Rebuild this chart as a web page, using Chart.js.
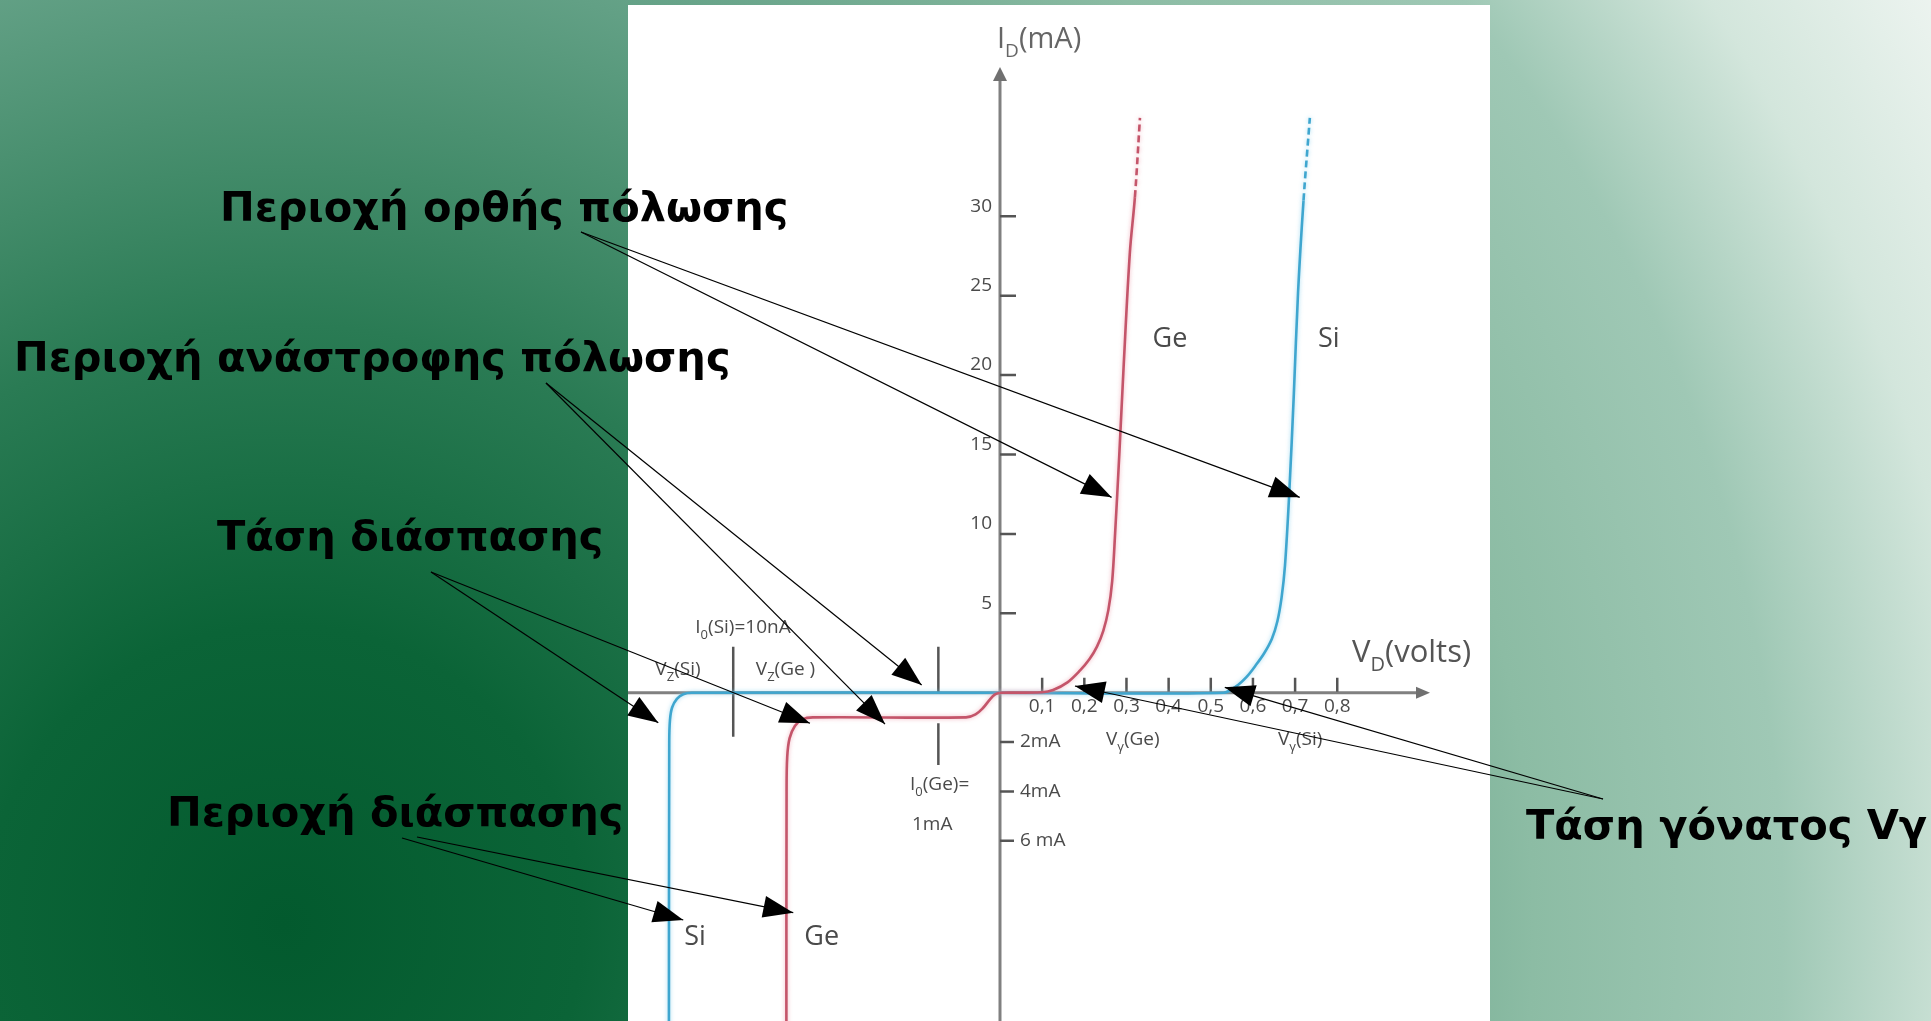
<!DOCTYPE html>
<html>
<head>
<meta charset="utf-8">
<title>Χαρακτηριστική διόδου Ge / Si</title>
<script src="https://cdn.jsdelivr.net/npm/chart.js@4.4.1/dist/chart.umd.min.js"></script>
<style>
  html, body { margin: 0; padding: 0; overflow: hidden; }
  body {
    width: 1931px; height: 1021px;
    background: radial-gradient(circle 1900px at 283px 925px,
      #035a2e 0px, #0b6437 300px, #2a7b54 600px, #62a085 970px,
      #8cbca4 1250px, #9fc8b5 1500px, #d3e6dc 1700px, #edf4f0 1900px);
  }
  #panel { position: absolute; left: 628px; top: 5px; width: 862px; height: 1016px; background: #fff; }
  #wrap { position: absolute; left: 0; top: 0; width: 1931px; height: 1021px; }
</style>
</head>
<body>
<div id="panel"></div>
<div id="wrap"><canvas id="diode-chart"></canvas></div>
<script>
// forward region: V in volts, I in mA
const geForward = [[0, 0], [0.1, 0.03], [0.126, 0.17], [0.16, 0.65], [0.19, 1.4], [0.212, 2.1], [0.23, 2.9],
  [0.245, 3.9], [0.257, 5.2], [0.266, 7.0], [0.273, 10], [0.283, 15], [0.293, 20.4], [0.308, 27.7],
  [0.32, 31.2], [0.332, 36.2]];
const siForward = [[0, 0], [0.53, 0], [0.56, 0.4], [0.585, 1.0], [0.607, 1.74], [0.627, 2.5], [0.645, 3.4],
  [0.658, 4.5], [0.668, 6.0], [0.676, 8.0], [0.686, 12.5], [0.697, 18.8], [0.707, 25.2], [0.72, 31.0],
  [0.735, 36.2]];
// reverse region (own scale on each axis)
const geReverse = [[0, 0], [-0.5, -0.08], [-1, -0.3], [-1.6, -0.62], [-2.3, -0.88], [-3.2, -1], [-17.6, -1],
  [-18.6, -1.08], [-19.3, -1.35], [-19.8, -1.85], [-20.02, -2.6], [-20.08, -4], [-20.1, -14]];
const siReverse = [[0, 0], [-29, -0.00001], [-29.8, -0.06], [-30.4, -0.25], [-30.85, -0.6], [-31.05, -1.1],
  [-31.12, -2], [-31.15, -14]];

const currentTicks = [5, 10, 15, 20, 25, 30];
const reverseTicks = [-2, -4, -6];
const reverseTickLabels = ['2mA', '4mA', '6 mA'];
const voltTicks = [0.1, 0.2, 0.3, 0.4, 0.5, 0.6, 0.7, 0.8];
const voltTickLabels = ['0,1', '0,2', '0,3', '0,4', '0,5', '0,6', '0,7', '0,8'];

// linear scale with a different unit length on each side of zero
class SplitScale extends Chart.LinearScale {
  static id = 'split';
  static defaults = Chart.LinearScale.defaults;
  getPixelForValue(value) {
    const z = this.options.zeroAt;
    const d = value >= 0 ? z + (1 - z) * value / this.max : z * (1 - value / this.min);
    return this.getPixelForDecimal(d);
  }
  getValueForPixel(pixel) {
    const z = this.options.zeroAt;
    const d = this.getDecimalForPixel(pixel);
    return d >= z ? (d - z) / (1 - z) * this.max : (1 - d / z) * this.min;
  }
}
Chart.register(SplitScale);

const FONT = '"Open Sans", sans-serif';

// [text, subscript?] runs, x/y in data units, y is the baseline
const notes = [
  { parts: [['I'], ['D', 1], ['(mA)']], x: -0.28, y: 40.57, size: 29, align: 'left', color: '#666' },
  { parts: [['V'], ['D', 1], ['(volts)']], x: 0.835, y: 1.93, size: 31, align: 'left', color: '#555' },
  { parts: [['Ge']], x: 0.403, y: 21.77, size: 27, align: 'center' },
  { parts: [['Si']], x: 0.78, y: 21.77, size: 27, align: 'center' },
  { parts: [['V'], ['γ', 1], ['(Ge)']], x: 0.315, y: -2.12, size: 19, align: 'center' },
  { parts: [['V'], ['γ', 1], ['(Si)']], x: 0.712, y: -2.12, size: 19, align: 'center' },
  { parts: [['V'], ['Z', 1], ['(Si)']], x: -30.3, y: 1.11, size: 19, align: 'center' },
  { parts: [['V'], ['Z', 1], ['(Ge )']], x: -20.18, y: 1.11, size: 19, align: 'center' },
  { parts: [['I'], ['0', 1], ['(Si)=10nA']], x: -24.18, y: 3.74, size: 19, align: 'center' },
  { parts: [['I'], ['0', 1], ['(Ge)=']], x: -8.47, y: -3.94, size: 19, align: 'left' },
  { parts: [['1mA']], x: -8.28, y: -5.56, size: 19, align: 'left' },
  { parts: [['Si']], x: -28.7, y: -10.22, size: 27, align: 'center' },
  { parts: [['Ge']], x: -16.78, y: -10.22, size: 27, align: 'center' }
];
const markers = [
  [[-25.1, 2.9], [-25.1, -1.78]],
  [[-5.8, 2.9], [-5.8, 0]],
  [[-5.8, -1.24], [-5.8, -2.93]]
];

// callouts: label baseline in px, arrow tails in px, arrow tips in data units
const callouts = [
  { text: 'Περιοχή ορθής πόλωσης', x: 220, y: 221, from: [[581, 232], [581, 232]], to: [[0.2647, 12.3], [0.711, 12.3]] },
  { text: 'Περιοχή ανάστροφης πόλωσης', x: 14, y: 371, from: [[546, 383], [546, 383]], to: [[-7.37, 0.48], [-10.82, -1.27]] },
  { text: 'Τάση διάσπασης', x: 217, y: 550, from: [[431, 572], [431, 572]], to: [[-32.15, -1.22], [-17.88, -1.24]] },
  { text: 'Περιοχή διάσπασης', x: 167, y: 826, from: [[402, 838], [417, 837]], to: [[-29.8, -9.21], [-19.45, -8.91]] },
  { text: 'Τάση γόνατος Vγ', x: 1526, y: 839, from: [[1603, 799], [1603, 799]], to: [[0.1777, 0.42], [0.5332, 0.34]] }
];

function richText(ctx, parts, x, y, size, align) {
  const sub = Math.round(size * 0.66);
  const fontOf = s => `${s ? sub : size}px ${FONT}`;
  let w = 0;
  parts.forEach(([t, s]) => { ctx.font = fontOf(s); w += ctx.measureText(t).width; });
  let cx = align === 'center' ? x - w / 2 : align === 'right' ? x - w : x;
  parts.forEach(([t, s]) => {
    ctx.font = fontOf(s);
    ctx.fillText(t, cx, s ? y + size * 0.3 : y);
    cx += ctx.measureText(t).width;
  });
}

function arrowHead(ctx, x1, y1, x2, y2, len, half) {
  const a = Math.atan2(y2 - y1, x2 - x1);
  const bx = x2 - len * Math.cos(a), by = y2 - len * Math.sin(a);
  ctx.beginPath();
  ctx.moveTo(x2, y2);
  ctx.lineTo(bx + half * Math.sin(a), by - half * Math.cos(a));
  ctx.lineTo(bx - half * Math.sin(a), by + half * Math.cos(a));
  ctx.closePath();
  ctx.fill();
}

const glow = ['rgba(235,150,165,0.7)', 'rgba(235,150,165,0.7)', 'rgba(130,205,235,0.7)', 'rgba(130,205,235,0.7)'];

const axesPlugin = {
  id: 'diodeAxes',
  beforeDatasetsDraw(chart) {
    const { ctx, chartArea: area, scales: { x, y } } = chart;
    const x0 = x.getPixelForValue(0), y0 = y.getPixelForValue(0);
    ctx.save();
    ctx.strokeStyle = '#808080';
    ctx.fillStyle = '#707070';
    ctx.lineWidth = 3;
    ctx.beginPath();
    ctx.moveTo(area.left, y0); ctx.lineTo(area.right - 8, y0);
    ctx.moveTo(x0, area.bottom); ctx.lineTo(x0, area.top + 8);
    ctx.stroke();
    arrowHead(ctx, area.left, y0, area.right, y0, 14, 6);
    arrowHead(ctx, x0, area.bottom, x0, area.top, 14, 7);

    ctx.strokeStyle = '#555';
    ctx.lineWidth = 2.5;
    ctx.beginPath();
    currentTicks.forEach(v => { const p = y.getPixelForValue(v); ctx.moveTo(x0, p); ctx.lineTo(x0 + 16, p); });
    reverseTicks.forEach(v => { const p = y.getPixelForValue(v); ctx.moveTo(x0, p); ctx.lineTo(x0 + 14, p); });
    voltTicks.forEach(v => { const p = x.getPixelForValue(v); ctx.moveTo(p, y0 - 15); ctx.lineTo(p, y0 - 1); });
    markers.forEach(([a, b]) => {
      ctx.moveTo(x.getPixelForValue(a[0]), y.getPixelForValue(a[1]));
      ctx.lineTo(x.getPixelForValue(b[0]), y.getPixelForValue(b[1]));
    });
    ctx.stroke();

    ctx.fillStyle = '#4a4a4a';
    ctx.font = `19px ${FONT}`;
    ctx.textBaseline = 'middle';
    ctx.textAlign = 'right';
    currentTicks.forEach(v => ctx.fillText(String(v), x0 - 8, y.getPixelForValue(v) - 10));
    ctx.textAlign = 'left';
    reverseTicks.forEach((v, i) => ctx.fillText(reverseTickLabels[i], x0 + 20, y.getPixelForValue(v)));
    ctx.textAlign = 'center';
    voltTicks.forEach((v, i) => ctx.fillText(voltTickLabels[i], x.getPixelForValue(v), y0 + 14));

    ctx.textBaseline = 'alphabetic';
    ctx.textAlign = 'left';
    notes.forEach(n => {
      ctx.fillStyle = n.color || '#4a4a4a';
      richText(ctx, n.parts, x.getPixelForValue(n.x), y.getPixelForValue(n.y), n.size, n.align);
    });
    ctx.restore();
  },
  // soft coloured halo round each curve
  beforeDatasetDraw(chart, args) {
    chart.ctx.save();
    chart.ctx.shadowColor = glow[args.index];
    chart.ctx.shadowBlur = 4;
  },
  afterDatasetDraw(chart) {
    chart.ctx.restore();
  },
  afterDraw(chart) {
    const { ctx, scales: { x, y } } = chart;
    ctx.save();
    ctx.fillStyle = '#000';
    ctx.strokeStyle = '#000';
    ctx.lineWidth = 1.2;
    callouts.forEach(c => {
      c.from.forEach((f, i) => {
        const tx = x.getPixelForValue(c.to[i][0]), ty = y.getPixelForValue(c.to[i][1]);
        ctx.beginPath();
        ctx.moveTo(f[0], f[1]);
        ctx.lineTo(tx, ty);
        ctx.stroke();
        arrowHead(ctx, f[0], f[1], tx, ty, 30, 11);
      });
    });
    ctx.font = 'bold 41.5px "DejaVu Sans", sans-serif';
    ctx.textBaseline = 'alphabetic';
    callouts.forEach(c => ctx.fillText(c.text, c.x, c.y));
    ctx.restore();
  }
};

const dashTop = ctx => ctx.p0.parsed.y >= 31 ? [7, 4] : undefined;
const line = (data, color) => ({
  data, borderColor: color, borderWidth: 2.6, pointRadius: 0, showLine: true, tension: 0.35,
  segment: { borderDash: dashTop }
});

new Chart(document.getElementById('diode-chart'), {
  type: 'scatter',
  data: {
    datasets: [
      line(geForward, '#c4556a'),
      line(geReverse, '#c4556a'),
      line(siForward, '#3fa6cf'),
      line(siReverse, '#3fa6cf')
    ]
  },
  options: {
    responsive: true,
    maintainAspectRatio: false,
    animation: false,
    events: [],
    layout: { padding: { left: 628, right: 501, top: 67, bottom: 0 } },
    plugins: { legend: { display: false }, tooltip: { enabled: false } },
    scales: {
      x: { type: 'split', min: -35, max: 1.02, zeroAt: 0.46384, bounds: 'data', display: false },
      y: { type: 'split', min: -13.3, max: 39.4, zeroAt: 0.34413, bounds: 'data', display: false }
    }
  },
  plugins: [axesPlugin]
});
</script>
</body>
</html>
